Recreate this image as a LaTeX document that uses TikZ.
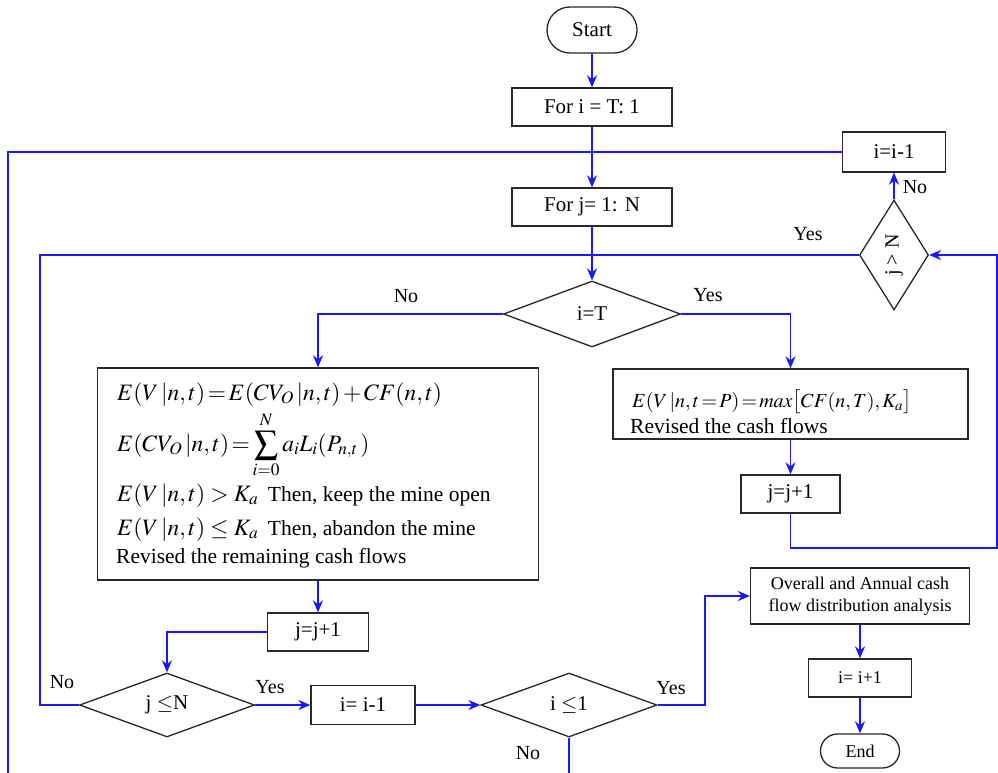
\documentclass[tikz,border=0pt]{standalone}
\usepackage{mathptmx}
\usepackage{fontspec}
\setmainfont{Liberation Serif}
\usepackage{graphicx}
\usetikzlibrary{shapes.geometric,shapes.misc,arrows.meta}
\definecolor{lnblue}{RGB}{25,25,255}
\definecolor{bdr}{RGB}{40,40,40}
\thickmuskip=2mu plus 1mu
\medmuskip=2mu plus 1mu
\tikzset{
 base/.style={draw=bdr,line width=1.3pt,inner sep=0pt,font=\fontsize{21}{25}\selectfont},
 box/.style={base,rectangle},
 dia/.style={base,diamond},
 term/.style={base,rounded rectangle},
 conn/.style={draw=lnblue,line width=1.6pt},
 arr/.style={conn,-{Stealth[length=12pt,width=10pt]}},
 lab/.style={font=\fontsize{20}{24}\selectfont,inner sep=0pt},
 eqn/.style={anchor=base west,inner sep=0pt},
 bigmath/.style={font=\fontsize{23.5}{28}\selectfont},
}
\begin{document}
\begin{tikzpicture}[x=1pt,y=-1pt]
\path[use as bounding box,fill=white] (0,0) rectangle (998,773);

% nodes
\node[term,minimum width=90pt,minimum height=46pt] (start) at (592,30) {Start};
\node[box,minimum width=160pt,minimum height=38pt] (fori) at (592,107) {For i = T: 1};
\node[box,minimum width=160pt,minimum height=38pt] (forj) at (592,207) {For j= 1: N};
\node[dia,minimum width=177pt,minimum height=66pt] (iT) at (592,314) {i=T};
\node[box,minimum width=103pt,minimum height=40pt] (iim1) at (894,152) {i=i-1};
\node[dia,minimum width=69pt,minimum height=110pt,font=\fontsize{20}{24}\selectfont] (jn) at (894,255) {\rotatebox{90}{j > N}};

\node[box,minimum width=441pt,minimum height=212pt] (bigbox) at (318,474) {};
\node[eqn,bigmath] (e1) at (117,400) {$E(V\,|n,t)=E(CV_O\,|n,t)+CF(n,t)$};
\node[eqn,bigmath] (e2) at (117,451) {$E(CV_O\,|n,t)=\displaystyle\sum_{i=0}^{N}a_iL_i(P_{n,t}\,)$};
\node[eqn,bigmath] (e3) at (117,501) {$E(V\,|n,t)\;>\;K_a$\, \fontsize{21.5}{26}\selectfont Then, keep the mine open};
\node[eqn,bigmath] (e4) at (117,535) {$E(V\,|n,t)\;\le\; K_a$\, \fontsize{21.5}{26}\selectfont Then, abandon the mine};
\node[eqn,font=\fontsize{21.5}{26}\selectfont] (e5) at (116,563) {Revised the remaining cash flows};

\node[box,minimum width=355pt,minimum height=70pt] (rbox) at (790.5,404) {};
\node[eqn,font=\fontsize{20}{24}\selectfont] (r1) at (632,407) {$E(V\,|n,t=P)=max\bigl[CF(n,T),K_a\bigr]$};
\node[eqn,font=\fontsize{21.5}{26}\selectfont] (r2) at (630,433) {Revised the cash flows};

\node[box,minimum width=99pt,minimum height=38pt] (jp1r) at (790.5,494) {j=j+1};
\node[box,minimum width=101pt,minimum height=38pt] (jp1l) at (318,632) {j=j+1};
\node[dia,minimum width=175pt,minimum height=64pt] (jleN) at (167,705) {j $\leq$N};
\node[box,minimum width=104pt,minimum height=39pt] (im1) at (363,705) {i= i-1};
\node[dia,minimum width=176pt,minimum height=64pt] (ile1) at (569,705) {i $\leq$1};
\node[box,minimum width=219pt,minimum height=56pt,align=center,font=\fontsize{18}{22}\selectfont] (overall) at (860,596) {Overall and Annual cash\\flow distribution analysis};
\node[box,minimum width=103pt,minimum height=38pt,font=\fontsize{18}{22}\selectfont] (ip1) at (860,678) {i= i+1};
\node[term,minimum width=79pt,minimum height=34pt,font=\fontsize{18}{22}\selectfont] (endn) at (860,751) {End};

% helper coordinates
\coordinate (cLB) at (8,773);
\coordinate (cL2) at (40,254);
\coordinate (cR) at (997,548);
\coordinate (cY) at (705,596);
\coordinate (cNo) at (569,773);

% connectors
\draw[arr] (start) -- (fori);
\draw[arr] (fori) -- (forj);
\draw[conn] (iim1.west) -| (cLB);
\draw[arr] (forj) -- (iT);
\draw[conn] (jleN.west) -| (cL2 |- jn.west) -- (jn.west);
\draw[arr] (iT.west) -| (bigbox.north);
\draw[arr] (iT.east) -| (rbox.north);
\draw[arr] (rbox.south) -- (jp1r.north);
\draw[arr] (jp1r.south) |- (cR) |- (jn.east);
\draw[arr] (jn.north) -- (iim1.south);
\draw[arr] (bigbox.south) -- (jp1l.north);
\draw[arr] (jp1l.west) -| (jleN.north);
\draw[arr] (jleN.east) -- (im1.west);
\draw[arr] (im1.east) -- (ile1.west);
\draw[arr] (ile1.east) -| (cY) -- (overall.west);
\draw[conn] (ile1.south) -- (cNo);
\draw[arr] (overall.south) -- (ip1.north);
\draw[arr] (ip1.south) -- (endn.north);

% labels
\node[lab] (l1) at (406,296) {No};
\node[lab] (l2) at (708,295) {Yes};
\node[lab] (l3) at (808,234) {Yes};
\node[lab] (l4) at (915,187) {No};
\node[lab] (l5) at (62,682) {No};
\node[lab] (l6) at (270,687) {Yes};
\node[lab] (l7) at (671,688) {Yes};
\node[lab] (l8) at (528,753) {No};
\end{tikzpicture}
\end{document}
